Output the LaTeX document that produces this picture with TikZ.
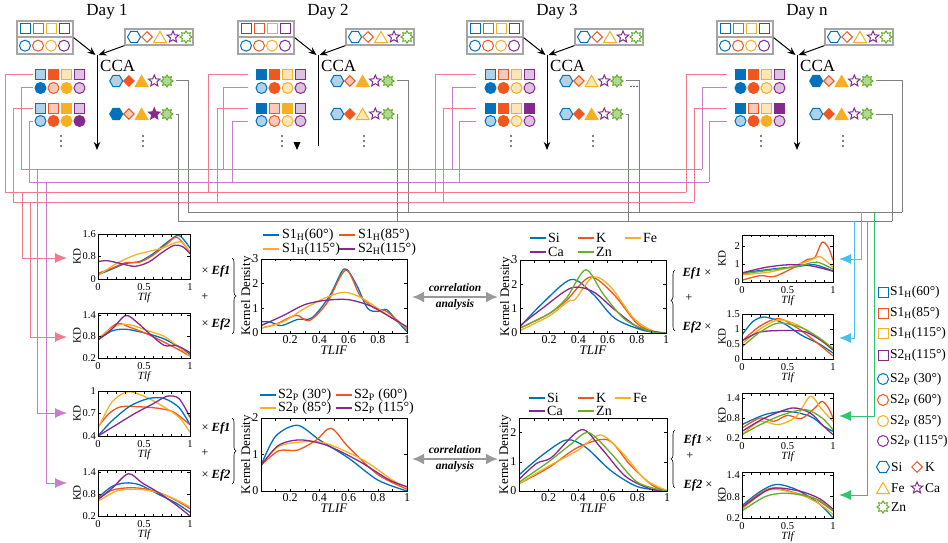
\documentclass[tikz,border=0pt]{standalone}
\usepackage{fontspec}
\setmainfont{Liberation Serif}
\usetikzlibrary{arrows.meta,shapes.geometric,decorations.pathreplacing}

% marker colours
\definecolor{B}{HTML}{0072BD}
\definecolor{O}{HTML}{F0561D}
\definecolor{Y}{HTML}{F7B022}
\definecolor{P}{HTML}{86288E}
\definecolor{G}{HTML}{66AF2B}
\colorlet{bL}{B!32}
\colorlet{oL}{O!32}
\colorlet{yL}{Y!32}
\colorlet{pL}{P!28}
\colorlet{gL}{G!50}
\colorlet{W}{white}
\colorlet{c1}{B}
\colorlet{c2}{O}
\colorlet{c3}{Y}
\colorlet{c4}{P}
\colorlet{c5}{G}
% connector colours
\definecolor{pinkc}{HTML}{F27A8C}
\definecolor{orchc}{HTML}{C77DCC}
\definecolor{grayc}{HTML}{7F7F7F}
\definecolor{cyanc}{HTML}{45C0EF}
\definecolor{greenc}{HTML}{2DC56E}

\tikzset{
  daytitle/.style={font=\fontsize{17}{17}\selectfont},
  ccalab/.style={font=\fontsize{17}{17}\selectfont, anchor=west, inner sep=0pt},
  topframe/.style={draw=black!35, line width=1.3pt, inner sep=0pt},
  mk/.style={draw, line width=1pt, inner sep=0pt},
  sqm/.style={mk, rectangle, minimum size=10pt},
  cim/.style={mk, circle, minimum size=11pt},
  elm1/.style={mk, regular polygon, regular polygon sides=6, minimum size=13pt},
  elm2/.style={mk, diamond, minimum size=11pt},
  elm3/.style={mk, regular polygon, regular polygon sides=3, minimum size=15pt, yshift=-1.9pt},
  elm4/.style={mk, star, star points=5, star point ratio=2.2, minimum size=12pt},
  elm5/.style={mk, star, star points=8, star point ratio=1.5, minimum size=12pt},
  ccaline/.style={line width=1pt},
  ccatip/.style={-{Stealth[length=8pt,width=6.5pt]}, line width=1pt},
  bus/.style={line width=1pt},
  pinkline/.style={bus, draw=pinkc},
  orchline/.style={bus, draw=orchc},
  grayline/.style={bus, draw=grayc},
  cyanline/.style={bus, draw=cyanc},
  greenline/.style={bus, draw=greenc},
  fattip/.style={-{Latex[length=12pt,width=10pt]}},
  axbox/.style={line width=0.9pt},
  axtick/.style={line width=0.6pt},
  kdc/.style={line width=1.3pt, line join=round},
  kdS/.style={ticklab/.style={font=\fontsize{10.5}{10.5}\selectfont, inner sep=0.5pt},
    ytick/.style={anchor=east, xshift=-1.5pt},
    xtick/.style={anchor=north, yshift=-4pt},
    ylab/.style={rotate=90, inner sep=1pt, font=\fontsize{11}{11}\selectfont},
    xlab/.style={anchor=north, yshift=-13pt, inner sep=1pt, font=\fontsize{11}{11}\selectfont\itshape}},
  kdM/.style={ticklab/.style={font=\fontsize{12}{12}\selectfont, inner sep=0.5pt},
    ytick/.style={anchor=east, xshift=-2pt},
    xtick/.style={anchor=north, yshift=-2pt},
    ylab/.style={rotate=90, inner sep=1pt, font=\fontsize{13}{13}\selectfont},
    xlab/.style={anchor=north, yshift=-12pt, inner sep=1pt, font=\fontsize{13}{13}\selectfont\itshape}},
  legline/.style={line width=1.3pt},
  midleg/.style={anchor=west, inner sep=0pt, font=\fontsize{14}{14}\selectfont},
  rleg/.style={anchor=west, inner sep=0pt, font=\fontsize{13.5}{13.5}\selectfont},
  eflab/.style={font=\fontsize{12.5}{12.5}\selectfont},
  corrlab/.style={font=\fontsize{11.5}{11.5}\selectfont\bfseries\itshape},
  corrarrow/.style={{Latex[length=12pt,width=11pt]}-{Latex[length=12pt,width=11pt]}, line width=2.2pt, draw=black!40},
  bracedec/.style={decorate, decoration={brace, amplitude=4pt}, line width=0.6pt}
}

% one day: id, x offset, title, square row 1, circle row 1, square row 2, circle row 2, element rows 1 and 2
\newcommand{\dayblock}[9]{%
  \begin{scope}[xshift=#2pt]
    \node[daytitle] (#1-t) at (107,12) {#3};
    \node[topframe, minimum width=56pt, minimum height=16pt] (#1-fs) at (45,29) {};
    \node[topframe, minimum width=56pt, minimum height=16.5pt] (#1-fc) at (45,45.7) {};
    \node[topframe, minimum width=68pt, minimum height=16pt] (#1-fe) at (159,37) {};
    \foreach \i in {1,...,4} {
      \node[sqm, draw=c\i, fill=white] (#1-ts\i) at (12+13*\i,29) {};
      \node[cim, draw=c\i, fill=white] (#1-tc\i) at (12+13*\i,45.7) {};
    }
    \foreach \i in {1,...,5}
      \node[elm\i, draw=c\i, fill=white] (#1-te\i) at (121+13*\i,37) {};
    \coordinate (#1-cca) at (97,55);
    \coordinate (#1-end) at (97,150);
    \draw[ccatip] (#1-fs.south east) -- ([xshift=-1.5pt]#1-cca);
    \draw[ccatip] (#1-fe.south west) -- ([xshift=1.5pt]#1-cca);
    \draw[ccaline] (#1-cca) -- ([yshift=4pt]#1-end);
    \node[ccalab] (#1-l) at (100,66) {CCA};
    \foreach \f [count=\i] in {#4}
      \node[sqm, draw=c\i, fill=\f] (#1-a\i) at (27.5+13*\i,75) {};
    \foreach \f [count=\i] in {#5}
      \node[cim, draw=c\i, fill=\f] (#1-b\i) at (27.5+13*\i,88) {};
    \foreach \f [count=\i] in {#6}
      \node[sqm, draw=c\i, fill=\f] (#1-c\i) at (27.5+13*\i,108) {};
    \foreach \f [count=\i] in {#7}
      \node[cim, draw=c\i, fill=\f] (#1-e\i) at (27.5+13*\i,121) {};
    \foreach \f [count=\i] in {#8}
      \node[elm\i, draw=c\i, fill=\f] (#1-f\i) at (103.5+12.7*\i,81) {};
    \foreach \f [count=\i] in {#9}
      \node[elm\i, draw=c\i, fill=\f] (#1-g\i) at (103.5+12.7*\i,114) {};
    % vertical ellipses
    \foreach \k in {-5,0,5} {
      \fill (61,141+\k) circle (0.9pt);
      \fill (143,141+\k) circle (0.9pt);
    }
  \end{scope}
}

% axes of one density plot: name, ymin, ymax, y ticks, x ticks, y label, x label, y label offset, size style
\newcommand{\kdframe}[9]{%
  \begin{scope}[#9]
    \draw[axbox] (0,#2) rectangle (1,#3);
    \foreach \t in {1,...,9} {
      \draw[axtick] (\t/10,#2) -- ++(0pt,2.5pt);
      \draw[axtick] (\t/10,#3) -- ++(0pt,-2.5pt);
    }
    \foreach \v [count=\k] in {#4} {
      \draw[axtick] (0,\v) -- ++(3pt,0pt);
      \draw[axtick] (1,\v) -- ++(-3pt,0pt);
      \node[ticklab, ytick] (#1-yt\k) at (0,\v) {\v};
    }
    \foreach \v [count=\k] in {#5}
      \node[ticklab, xtick] (#1-xt\k) at (\v,#2) {\v};
    \node[ylab] (#1-yl) at ([xshift=-#8pt]0,{(#2+#3)/2}) {#6};
    \node[xlab] (#1-xl) at (0.5,#2) {#7};
  \end{scope}
}

\begin{document}
\begin{tikzpicture}[x=1pt, y=-1pt]
\useasboundingbox (0,0) rectangle (948,543);

% ---- the four days ----
\dayblock{d1}{0}{Day 1}{bL,O,yL,pL}{B,oL,Y,pL}{bL,oL,Y,pL}{bL,O,Y,P}{bL,O,Y,W,gL}{B,oL,Y,P,gL}
\dayblock{d2}{221}{Day 2}{B,O,yL,pL}{bL,O,yL,pL}{B,oL,Y,pL}{bL,oL,yL,pL}{bL,oL,Y,W,gL}{bL,O,yL,W,gL}
\dayblock{d3}{450}{Day 3}{bL,oL,yL,pL}{B,O,yL,pL}{B,O,yL,P}{bL,O,yL,pL}{bL,oL,yL,W,gL}{bL,O,Y,W,gL}
\dayblock{dn}{700}{Day n}{B,O,yL,pL}{B,O,yL,pL}{B,oL,yL,P}{bL,O,Y,pL}{B,oL,Y,W,gL}{bL,O,Y,W,gL}

\foreach \d in {d1,d3,dn}
  \draw[ccatip] ([yshift=8pt]\d-end) -- (\d-end);
\coordinate (d2-tip) at (297,150);
\fill (d2-tip) -- ++(-3.5pt,8pt) -- ++(7pt,0pt) -- cycle;
\node[inner sep=0pt, font=\fontsize{12}{12}\selectfont] (d3-dots) at (634,87) {...};

% ---- rows to buses ----
\foreach \d/\gp/\xa/\xb/\xc/\xe/\xf/\xg in {d1/2/5/21/13/29/188/178, d2/8/208/223/217/232/408/397,
    d3/9/435/452/443/459/639/628, dn/8/686/702/694/709/902/892} {
  \coordinate (\d-pa) at (\xa,192);
  \coordinate (\d-pb) at (\xb,169);
  \coordinate (\d-pc) at (\xc,202);
  \coordinate (\d-pe) at (\xe,182);
  \coordinate (\d-pf) at (\xf,212);
  \coordinate (\d-pg) at (\xg,221);
  \draw[pinkline] ([xshift=-\gp pt]\d-a1.west) -| (\d-pa);
  \draw[orchline] ([xshift=-\gp pt]\d-b1.west) -| (\d-pb);
  \draw[pinkline] ([xshift=-\gp pt]\d-c1.west) -| (\d-pc);
  \draw[orchline] ([xshift=-\gp pt]\d-e1.west) -| (\d-pe);
  \draw[grayline] ([xshift=2pt]\d-f5.east) -| (\d-pf);
  \draw[grayline] ([xshift=2pt]\d-g5.east) -| (\d-pg);
}
\draw[orchline] (d1-pb) -- (dn-pb);
\draw[orchline] (d1-pe) -- (dn-pe);
\draw[pinkline] (d1-pa) -- (dn-pa);
\draw[pinkline] (d1-pc) -- (dn-pc);
\draw[grayline] (d1-pf) -- (dn-pf);
\draw[grayline] (d1-pg) -- (dn-pg);

% ---- buses down to the small plots ----
\coordinate (dropA) at (22,192);  \coordinate (inA) at (67,258);
\coordinate (dropB) at (30,202);  \coordinate (inB) at (67,337);
\coordinate (dropC) at (37,169);  \coordinate (inC) at (67,413);
\coordinate (dropE) at (46,182);  \coordinate (inE) at (67,483);
\coordinate (dropF) at (861,212); \coordinate (inF) at (839,259);
\coordinate (dropG) at (854,221); \coordinate (inG) at (839,338);
\coordinate (dropH) at (874,212); \coordinate (inH) at (839,416);
\coordinate (dropI) at (867,221); \coordinate (inI) at (839,495);
\draw[pinkline, fattip] (dropA) |- (inA);
\draw[pinkline, fattip] (dropB) |- (inB);
\draw[orchline, fattip] (dropC) |- (inC);
\draw[orchline, fattip] (dropE) |- (inE);
\draw[cyanline, fattip] (dropF) |- (inF);
\draw[cyanline, fattip] (dropG) |- (inG);
\draw[greenline, fattip] (dropH) |- (inH);
\draw[greenline, fattip] (dropI) |- (inI);

% ---- small plots, left ----
\begin{scope}[shift={(98,279)}, x=92pt, y=28.125pt]
  \begin{scope}
    \clip (0,0) rectangle (1,1.6);
    \draw[kdc, draw=B] plot[smooth] coordinates {(0,0.15) (0.15,0.35) (0.3,0.55) (0.45,0.62) (0.6,0.9) (0.75,1.3) (0.88,1.55) (1,1.1)};
    \draw[kdc, draw=O] plot[smooth] coordinates {(0,0.2) (0.15,0.38) (0.3,0.58) (0.45,0.6) (0.6,0.85) (0.75,1.25) (0.86,1.48) (1,0.95)};
    \draw[kdc, draw=Y] plot[smooth] coordinates {(0,0.12) (0.2,0.55) (0.4,0.85) (0.55,0.98) (0.7,1.1) (0.85,1.3) (0.92,1.3) (1,0.95)};
    \draw[kdc, draw=P] plot[smooth] coordinates {(0,0.62) (0.1,0.65) (0.25,0.55) (0.4,0.45) (0.55,0.6) (0.7,0.95) (0.83,1.2) (0.92,1.15) (1,0.9)};
  \end{scope}
  \kdframe{pA}{0}{1.6}{0,0.8,1.6}{0,0.5,1}{KD}{Tlf}{21}{kdS}
\end{scope}
\begin{scope}[shift={(98,365.2)}, x=92pt, y=36pt]
  \begin{scope}
    \clip (0,0.2) rectangle (1,1.45);
    \draw[kdc, draw=B] plot[smooth] coordinates {(0,0.7) (0.15,0.95) (0.3,1.0) (0.5,0.9) (0.7,0.75) (0.85,0.55) (1,0.3)};
    \draw[kdc, draw=O] plot[smooth] coordinates {(0,0.7) (0.2,1.15) (0.35,1.05) (0.55,0.85) (0.75,0.6) (0.9,0.4) (1,0.25)};
    \draw[kdc, draw=Y] plot[smooth] coordinates {(0,0.75) (0.2,1.1) (0.35,1.12) (0.55,0.95) (0.72,0.8) (0.88,0.5) (1,0.25)};
    \draw[kdc, draw=P] plot[smooth] coordinates {(0,0.7) (0.15,1.0) (0.3,1.38) (0.42,1.2) (0.55,0.9) (0.72,0.55) (0.85,0.55) (1,0.35)};
  \end{scope}
  \kdframe{pB}{0.2}{1.45}{0.2,0.8,1.4}{0,0.5,1}{KD}{Tlf}{21}{kdS}
\end{scope}
\begin{scope}[shift={(98,466)}, x=92pt, y=75pt]
  \begin{scope}
    \clip (0,0.4) rectangle (1,1.0);
    \draw[kdc, draw=O] plot[smooth] coordinates {(0,0.52) (0.12,0.7) (0.25,0.79) (0.45,0.79) (0.65,0.77) (0.82,0.72) (1,0.55)};
    \draw[kdc, draw=Y] plot[smooth] coordinates {(0,0.5) (0.15,0.85) (0.32,0.99) (0.5,0.93) (0.7,0.8) (0.88,0.65) (1,0.45)};
    \draw[kdc, draw=B] plot[smooth] coordinates {(0,0.4) (0.15,0.6) (0.35,0.8) (0.55,0.9) (0.72,0.9) (0.88,0.78) (1,0.55)};
    \draw[kdc, draw=P] plot[smooth] coordinates {(0,0.4) (0.2,0.55) (0.4,0.7) (0.6,0.83) (0.75,0.93) (0.88,0.9) (1,0.65)};
  \end{scope}
  \kdframe{pC}{0.4}{1.0}{0.4,0.7,1}{0,0.5,1}{KD}{Tlf}{21}{kdS}
\end{scope}
\begin{scope}[shift={(98,523.4)}, x=92pt, y=36.8pt]
  \begin{scope}
    \clip (0,0.2) rectangle (1,1.45);
    \draw[kdc, draw=B] plot[smooth] coordinates {(0,0.7) (0.15,1.0) (0.3,1.1) (0.45,1.05) (0.65,0.8) (0.85,0.55) (1,0.3)};
    \draw[kdc, draw=O] plot[smooth] coordinates {(0,0.65) (0.15,0.9) (0.35,0.97) (0.55,0.92) (0.75,0.75) (0.9,0.55) (1,0.4)};
    \draw[kdc, draw=Y] plot[smooth] coordinates {(0,0.6) (0.2,0.88) (0.4,0.93) (0.6,0.87) (0.8,0.7) (1,0.45)};
    \draw[kdc, draw=P] plot[smooth] coordinates {(0,0.65) (0.15,0.95) (0.33,1.35) (0.48,1.1) (0.65,0.85) (0.85,0.5) (1,0.2)};
  \end{scope}
  \kdframe{pD}{0.2}{1.45}{0.2,0.8,1.4}{0,0.5,1}{KD}{Tlf}{21}{kdS}
\end{scope}

% ---- middle plots ----
\begin{scope}[shift={(261,333)}, x=146pt, y=24.67pt]
  \begin{scope}
    \clip (0,0) rectangle (1,3);
    \draw[kdc, draw=B] plot[smooth] coordinates {(0,0.45) (0.06,0.45) (0.14,0.3) (0.25,0.55) (0.35,0.62) (0.47,1.5) (0.57,2.6) (0.65,2.0) (0.73,1.0) (0.8,0.88) (0.86,0.95) (0.93,0.5) (1,0.05)};
    \draw[kdc, draw=O] plot[smooth] coordinates {(0,0.2) (0.1,0.35) (0.24,0.72) (0.33,0.5) (0.45,1.2) (0.58,2.55) (0.68,1.5) (0.78,1.0) (0.86,0.88) (1,0.15)};
    \draw[kdc, draw=Y] plot[smooth] coordinates {(0,0.2) (0.15,0.45) (0.3,1.0) (0.45,1.45) (0.57,1.65) (0.68,1.45) (0.8,1.0) (0.9,0.6) (1,0.2)};
    \draw[kdc, draw=P] plot[smooth] coordinates {(0,0.3) (0.15,0.7) (0.3,1.15) (0.45,1.33) (0.6,1.35) (0.75,1.1) (0.87,0.7) (1,0.25)};
  \end{scope}
  \kdframe{mA}{0}{3}{0,1,2,3}{0.2,0.4,0.6,0.8,1}{Kernel Density}{TLIF}{14}{kdM}
\end{scope}
\begin{scope}[shift={(520,333)}, x=146pt, y=24.33pt]
  \begin{scope}
    \clip (0,0) rectangle (1,3);
    \draw[kdc, draw=B] plot[smooth] coordinates {(0,0.25) (0.15,1.2) (0.35,2.2) (0.5,1.6) (0.65,0.6) (0.85,0.1) (1,0)};
    \draw[kdc, draw=O] plot[smooth] coordinates {(0,0.2) (0.2,0.8) (0.32,1.35) (0.48,2.3) (0.64,1.6) (0.8,0.4) (0.92,0.05) (1,0)};
    \draw[kdc, draw=Y] plot[smooth] coordinates {(0,0.1) (0.2,0.7) (0.33,1.3) (0.38,1.4) (0.5,2.3) (0.62,1.9) (0.78,0.6) (0.92,0.05) (1,0)};
    \draw[kdc, draw=P] plot[smooth] coordinates {(0,0.3) (0.15,1.0) (0.35,1.85) (0.5,1.7) (0.65,0.95) (0.82,0.2) (1,0)};
    \draw[kdc, draw=G] plot[smooth] coordinates {(0,0.2) (0.2,0.8) (0.32,1.45) (0.45,2.6) (0.57,1.6) (0.72,0.55) (0.9,0.05) (1,0)};
  \end{scope}
  \kdframe{mB}{0}{3}{0,1,2,3}{0.2,0.4,0.6,0.8,1}{Kernel Density}{TLIF}{14}{kdM}
\end{scope}
\begin{scope}[shift={(261,491)}, x=146pt, y=36.5pt]
  \begin{scope}
    \clip (0,0) rectangle (1,2);
    \draw[kdc, draw=B] plot[smooth] coordinates {(0,0.7) (0.1,1.5) (0.25,1.8) (0.4,1.4) (0.6,0.9) (0.8,0.3) (1,0)};
    \draw[kdc, draw=O] plot[smooth] coordinates {(0,0.7) (0.12,1.1) (0.25,1.12) (0.38,1.4) (0.48,1.72) (0.6,1.2) (0.8,0.45) (1,0.05)};
    \draw[kdc, draw=Y] plot[smooth] coordinates {(0,0.7) (0.12,1.22) (0.3,1.35) (0.45,1.3) (0.7,0.85) (0.9,0.3) (1,0.1)};
    \draw[kdc, draw=P] plot[smooth] coordinates {(0,0.7) (0.12,1.25) (0.27,1.4) (0.45,1.25) (0.67,0.82) (0.88,0.3) (1,0.12)};
  \end{scope}
  \kdframe{mC}{0}{2}{0,1,2}{0.2,0.4,0.6,0.8,1}{Kernel Density}{TLIF}{14}{kdM}
\end{scope}
\begin{scope}[shift={(519,491)}, x=148pt, y=29.2pt]
  \begin{scope}
    \clip (0,0) rectangle (1,2.5);
    \draw[kdc, draw=B] plot[smooth] coordinates {(0,0.55) (0.15,1.2) (0.32,1.75) (0.45,1.5) (0.62,0.7) (0.8,0.15) (1,0)};
    \draw[kdc, draw=O] plot[smooth] coordinates {(0,0.25) (0.2,0.8) (0.4,1.5) (0.6,1.75) (0.75,0.9) (0.9,0.2) (1,0)};
    \draw[kdc, draw=Y] plot[smooth] coordinates {(0,0.25) (0.2,0.85) (0.4,1.4) (0.55,1.92) (0.7,1.3) (0.85,0.4) (1,0.02)};
    \draw[kdc, draw=P] plot[smooth] coordinates {(0,0.4) (0.12,0.95) (0.22,1.15) (0.42,2.1) (0.55,1.5) (0.72,0.5) (0.9,0.05) (1,0)};
    \draw[kdc, draw=G] plot[smooth] coordinates {(0,0.3) (0.2,1.0) (0.35,1.6) (0.47,2.0) (0.62,1.3) (0.8,0.3) (1,0)};
  \end{scope}
  \kdframe{mD}{0}{2.5}{0,1,2}{0.2,0.4,0.6,0.8,1}{Kernel Density}{TLIF}{14}{kdM}
\end{scope}

% ---- small plots, right ----
\begin{scope}[shift={(742,282)}, x=91pt, y=18.08pt]
  \begin{scope}
    \clip (0,0) rectangle (1,2.6);
    \draw[kdc, draw=B] plot[smooth] coordinates {(0,0.5) (0.3,0.7) (0.6,0.85) (0.8,0.95) (1,0.6)};
    \draw[kdc, draw=O] plot[smooth] coordinates {(0,0.1) (0.2,0.35) (0.35,0.3) (0.55,0.75) (0.72,1.25) (0.8,1.35) (0.88,2.2) (0.95,1.9) (1,1.2)};
    \draw[kdc, draw=Y] plot[smooth] coordinates {(0,0.4) (0.3,0.55) (0.55,0.85) (0.75,1.2) (0.86,1.4) (1,0.8)};
    \draw[kdc, draw=P] plot[smooth] coordinates {(0,0.5) (0.25,0.8) (0.5,0.95) (0.75,0.9) (1,0.6)};
    \draw[kdc, draw=G] plot[smooth] coordinates {(0,0.45) (0.3,0.65) (0.6,0.85) (0.82,1.1) (1,0.7)};
  \end{scope}
  \kdframe{rA}{0}{2.6}{0,1,2}{0,0.5,1}{KD}{Tlf}{20}{kdS}
\end{scope}
\begin{scope}[shift={(742,359)}, x=91pt, y=30pt]
  \begin{scope}
    \clip (0,0) rectangle (1,1.5);
    \draw[kdc, draw=B] plot[smooth] coordinates {(0,0.8) (0.12,1.25) (0.25,1.4) (0.45,1.2) (0.65,0.8) (0.85,0.5) (1,0.2)};
    \draw[kdc, draw=O] plot[smooth] coordinates {(0,0.6) (0.2,1.1) (0.4,1.35) (0.6,1.05) (0.8,0.6) (1,0.1)};
    \draw[kdc, draw=Y] plot[smooth] coordinates {(0,0.5) (0.2,1.0) (0.4,1.3) (0.6,1.15) (0.85,0.65) (1,0.3)};
    \draw[kdc, draw=P] plot[smooth] coordinates {(0,0.6) (0.2,0.9) (0.5,0.95) (0.7,0.9) (0.88,0.6) (1,0.3)};
    \draw[kdc, draw=G] plot[smooth] coordinates {(0,0.4) (0.2,0.9) (0.4,1.2) (0.65,1.05) (0.85,0.7) (1,0.35)};
  \end{scope}
  \kdframe{rB}{0}{1.5}{0,0.5,1,1.5}{0,0.5,1}{KD}{Tlf}{20}{kdS}
\end{scope}
\begin{scope}[shift={(742,444.67)}, x=91pt, y=33.33pt]
  \begin{scope}
    \clip (0,0.2) rectangle (1,1.55);
    \draw[kdc, draw=B] plot[smooth] coordinates {(0,0.6) (0.25,0.9) (0.5,1.0) (0.75,0.85) (0.9,0.55) (1,0.4)};
    \draw[kdc, draw=O] plot[smooth] coordinates {(0,0.5) (0.2,0.8) (0.35,0.7) (0.5,0.88) (0.65,0.78) (0.8,1.1) (0.88,1.3) (0.95,1.1) (1,0.8)};
    \draw[kdc, draw=Y] plot[smooth] coordinates {(0,0.3) (0.2,0.7) (0.4,0.6) (0.6,0.85) (0.75,1.45) (0.88,1.05) (1,0.7)};
    \draw[kdc, draw=P] plot[smooth] coordinates {(0,0.4) (0.25,0.8) (0.55,1.1) (0.75,0.95) (0.88,0.6) (1,0.3)};
    \draw[kdc, draw=G] plot[smooth] coordinates {(0,0.3) (0.2,0.6) (0.45,0.9) (0.7,1.05) (0.88,0.8) (1,0.45)};
  \end{scope}
  \kdframe{rC}{0.2}{1.55}{0.2,0.8,1.4}{0,0.5,1}{KD}{Tlf}{20}{kdS}
\end{scope}
\begin{scope}[shift={(742,525.08)}, x=91pt, y=35.38pt]
  \begin{scope}
    \clip (0,0.2) rectangle (1,1.5);
    \draw[kdc, draw=B] plot[smooth] coordinates {(0,0.55) (0.2,0.95) (0.38,1.15) (0.6,1.0) (0.85,0.6) (1,0.2)};
    \draw[kdc, draw=O] plot[smooth] coordinates {(0,0.5) (0.2,0.9) (0.35,1.05) (0.6,0.9) (0.8,0.75) (1,0.4)};
    \draw[kdc, draw=Y] plot[smooth] coordinates {(0,0.45) (0.25,0.95) (0.4,1.0) (0.65,0.85) (0.85,0.6) (1,0.3)};
    \draw[kdc, draw=P] plot[smooth] coordinates {(0,0.5) (0.25,0.95) (0.4,1.05) (0.65,0.95) (0.85,0.75) (1,0.45)};
    \draw[kdc, draw=G] plot[smooth] coordinates {(0,0.4) (0.25,0.8) (0.45,0.9) (0.65,0.85) (0.85,0.7) (1,0.4)};
  \end{scope}
  \kdframe{rD}{0.2}{1.5}{0.2,0.8,1.4}{0,0.5,1}{KD}{Tlf}{20}{kdS}
\end{scope}

% ---- plot legends ----
\foreach \c/\x/\y/\t [count=\k] in {B/263/235/{S1\textsubscript{H}(60°)}, O/339/235/{S1\textsubscript{H}(85°)},
    Y/263/249/{S1\textsubscript{H}(115°)}, P/339/249/{S2\textsubscript{H}(115°)}} {
  \coordinate (lgA\k) at (\x,\y);
  \draw[legline, draw=\c] (lgA\k) -- ++(16pt,0pt);
  \node[midleg] (lgAt\k) at (\x+19,\y) {\t};
}
\foreach \c/\x/\y/\t [count=\k] in {B/260/395/{S2\textsubscript{P} (30°)}, O/336/395/{S2\textsubscript{P} (60°)},
    Y/260/408/{S2\textsubscript{P} (85°)}, P/336/408/{S2\textsubscript{P} (115°)}} {
  \coordinate (lgC\k) at (\x,\y);
  \draw[legline, draw=\c] (lgC\k) -- ++(16pt,0pt);
  \node[midleg] (lgCt\k) at (\x+18,\y) {\t};
}
\foreach \c/\x/\y/\t [count=\k] in {B/530/238/Si, O/578/238/K, Y/625/238/Fe, P/530/252/Ca, G/578/252/Zn} {
  \coordinate (lgB\k) at (\x,\y);
  \draw[legline, draw=\c] (lgB\k) -- ++(16pt,0pt);
  \node[midleg] (lgBt\k) at (\x+18,\y) {\t};
}
\foreach \c/\x/\y/\t [count=\k] in {B/529/398/Si, O/578/398/K, Y/615/398/Fe, P/529/411/Ca, G/578/411/Zn} {
  \coordinate (lgD\k) at (\x,\y);
  \draw[legline, draw=\c] (lgD\k) -- ++(16pt,0pt);
  \node[midleg] (lgDt\k) at (\x+18,\y) {\t};
}

% ---- weights and braces ----
\node[eflab] (efA1) at (216,271) {× \textbf{\textit{Ef1}}};
\node[eflab] (efA2) at (205,297) {+};
\node[eflab] (efA3) at (216,324) {× \textbf{\textit{Ef2}}};
\coordinate (brA1) at (232,258); \coordinate (brA2) at (232,334);
\draw[bracedec] (brA1) -- (brA2);
\node[eflab] (efB1) at (216,428) {× \textbf{\textit{Ef1}}};
\node[eflab] (efB2) at (205,453) {+};
\node[eflab] (efB3) at (216,475) {× \textbf{\textit{Ef2}}};
\coordinate (brB1) at (232,418); \coordinate (brB2) at (232,484);
\draw[bracedec] (brB1) -- (brB2);
\node[eflab] (efC1) at (697,273) {\textbf{\textit{Ef1}} ×};
\node[eflab] (efC2) at (689,298) {+};
\node[eflab] (efC3) at (697,327) {\textbf{\textit{Ef2}} ×};
\coordinate (brC1) at (675,331); \coordinate (brC2) at (675,270);
\draw[bracedec] (brC1) -- (brC2);
\node[eflab] (efD1) at (698,440) {\textbf{\textit{Ef1}} ×};
\node[eflab] (efD2) at (690,456) {+};
\node[eflab] (efD3) at (698,485) {\textbf{\textit{Ef2}} ×};
\coordinate (brD1) at (675,488); \coordinate (brD2) at (675,430);
\draw[bracedec] (brD1) -- (brD2);

% ---- correlation analysis ----
\coordinate (caL) at (412,297); \coordinate (caR) at (498,297);
\draw[corrarrow] (caL) -- (caR);
\node[corrlab] (caT1) at (455,288) {correlation};
\node[corrlab] (caT2) at (455,305) {analysis};
\coordinate (cbL) at (412,459); \coordinate (cbR) at (498,459);
\draw[corrarrow] (cbL) -- (cbR);
\node[corrlab] (cbT1) at (455,450) {correlation};
\node[corrlab] (cbT2) at (455,467) {analysis};

% ---- marker legend ----
\foreach \c/\y/\t [count=\k] in {B/292/{S1\textsubscript{H}(60°)}, O/313/{S1\textsubscript{H}(85°)},
    Y/333/{S1\textsubscript{H}(115°)}, P/355/{S2\textsubscript{H}(115°)}} {
  \node[sqm, draw=\c, fill=white] (rls\k) at (883,\y) {};
  \node[rleg] (rlst\k) at (890,\y) {\t};
}
\foreach \c/\y/\t [count=\k] in {B/379/{S2\textsubscript{P} (30°)}, O/400/{S2\textsubscript{P} (60°)},
    Y/421/{S2\textsubscript{P} (85°)}, P/441/{S2\textsubscript{P} (115°)}} {
  \node[cim, draw=\c, fill=white] (rlc\k) at (883,\y) {};
  \node[rleg] (rlct\k) at (890,\y) {\t};
}
\foreach \i/\x/\y/\t in {1/883/467/Si, 2/917/467/K, 3/883/488/Fe, 4/917/488/Ca, 5/883/507/Zn} {
  \node[elm\i, draw=c\i, fill=white] (rle\i) at (\x,\y) {};
  \node[rleg] (rlet\i) at (\x+8,\y) {\t};
}
\end{tikzpicture}
\end{document}
